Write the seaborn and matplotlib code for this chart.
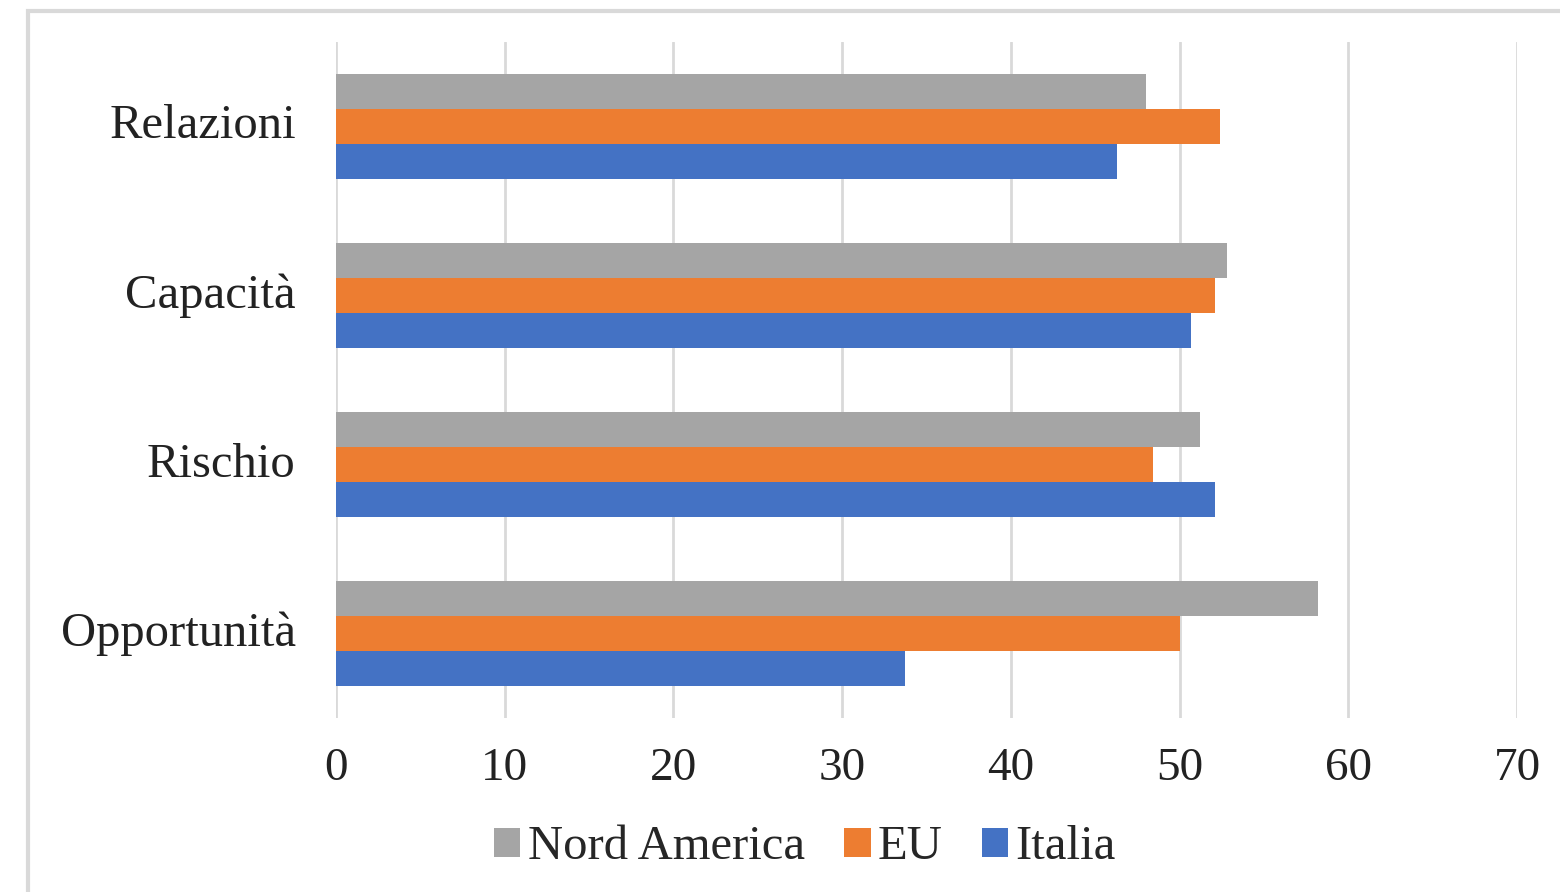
import pandas as pd
import matplotlib.pyplot as plt
import matplotlib.transforms as mtransforms
import seaborn as sns
from matplotlib.patches import Rectangle

# --- dati ---
categories = ['Relazioni', 'Capacità', 'Rischio', 'Opportunità']
series = ['Nord America', 'EU', 'Italia']
nord_america = [48.0, 52.8, 51.2, 58.2]
eu = [52.4, 52.1, 48.4, 50.0]
italia = [46.3, 50.7, 52.1, 33.7]
colors = ['#A5A5A5', '#ED7D31', '#4472C4']

df = pd.DataFrame({
    'categoria': categories * 3,
    'serie': [s for s in series for _ in categories],
    'valore': nord_america + eu + italia,
})

sns.set_style('white')
plt.rcParams['font.family'] = ['Liberation Serif', 'DejaVu Serif']

fig = plt.figure(figsize=(15.6, 8.92), dpi=100)
ax = fig.add_axes([0.2154, 0.195, 0.757, 0.758])

sns.barplot(data=df, x='valore', y='categoria', hue='serie', order=categories,
            hue_order=series, palette=colors, orient='h', width=0.616,
            saturation=1, linewidth=0, ax=ax, zorder=3)

ax.set_xlim(0, 70)
ax.set_ylim(3.5, -0.5)
ax.set_xticks(range(0, 71, 10))
ax.grid(axis='x', color='#d9d9d9', linewidth=2, zorder=0)
ax.grid(axis='y', visible=False)
for s in ax.spines.values():
    s.set_visible(False)
ax.set_xlabel('')
ax.set_ylabel('')
ax.tick_params(axis='x', labelsize=34, pad=21, length=0, colors='#222222')
ax.tick_params(axis='y', labelsize=35, pad=29, length=0, colors='#222222')

# etichette delle categorie un po' più in alto
shift = mtransforms.ScaledTranslation(0, 5 / 100, fig.dpi_scale_trans)
for lab in ax.get_yticklabels():
    lab.set_transform(lab.get_transform() + shift)

ax.legend(loc='upper center', bbox_to_anchor=(0.397, -0.094), ncol=3, frameon=False,
          fontsize=35, handlelength=0.55, handleheight=0.55, handletextpad=0.15,
          columnspacing=0.8)

# bordo esterno del grafico
fig.patches.append(Rectangle((28 / 1560, -0.1), 1.2, 1.1 - 11 / 892,
                             transform=fig.transFigure, fill=False,
                             edgecolor='#d9d9d9', linewidth=3))

fig.savefig('out.png', dpi=100)
